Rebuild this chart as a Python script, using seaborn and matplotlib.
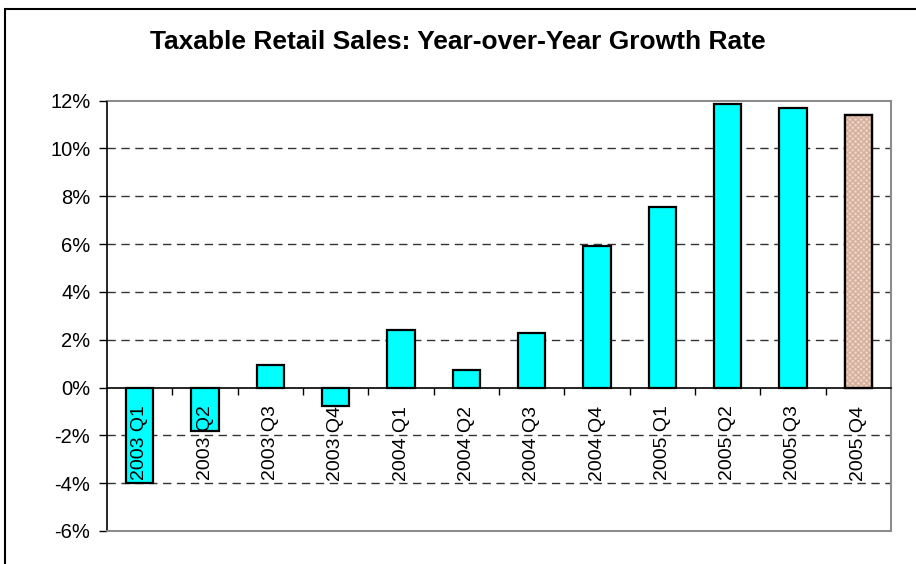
import matplotlib
matplotlib.use("Agg")
import matplotlib.pyplot as plt
from matplotlib.patches import Rectangle
from matplotlib.ticker import FixedLocator
import seaborn as sns
import pandas as pd

# Quarterly year-over-year growth of taxable retail sales (percent)
quarters = ["2003 Q1", "2003 Q2", "2003 Q3", "2003 Q4",
            "2004 Q1", "2004 Q2", "2004 Q3", "2004 Q4",
            "2005 Q1", "2005 Q2", "2005 Q3", "2005 Q4"]
growth = [-4.0, -1.8, 0.94, -0.78, 2.4, 0.73, 2.28, 5.93, 7.56, 11.86, 11.7, 11.4]
y_ticks = [-6, -4, -2, 0, 2, 4, 6, 8, 10, 12]
grid_levels = [-4, -2, 2, 4, 6, 8, 10]

sns.set_style("white")
plt.rcParams["font.family"] = ["Liberation Sans", "DejaVu Sans"]
plt.rcParams["text.color"] = "black"
plt.rcParams["xtick.color"] = "black"
plt.rcParams["ytick.color"] = "black"

fig = plt.figure(figsize=(9.16, 5.64), dpi=100)
ax = fig.add_axes([107 / 916, 1 - 531 / 564, (891 - 107) / 916, (531 - 100.5) / 564])

df = pd.DataFrame({"quarter": quarters, "growth": growth})
colors = ["#00FFFF"] * (len(quarters) - 1) + ["#EDD3C6"]
sns.barplot(data=df, x="quarter", y="growth", hue="quarter", palette=colors,
            legend=False, width=0.42, edgecolor="black", linewidth=1.6,
            saturation=1, ax=ax, zorder=2)

# Forecast quarter: fine textured fill under the outline
last = len(quarters) - 1
ax.bar(last, growth[last], width=0.42, color="none", edgecolor="#D6AE9C",
       hatch="xxxxxx", linewidth=0, zorder=2.1)
ax.bar(last, growth[last], width=0.42, color="none", edgecolor="black",
       linewidth=1.6, zorder=2.2)

ax.set_ylim(-6, 12)
ax.set_xlim(-0.5, len(quarters) - 0.5)
ax.set_axisbelow(False)

# Dashed horizontal gridlines behind the bars
for lv in grid_levels:
    ax.axhline(lv, color="#333333", linestyle=(0, (6, 4)), linewidth=1.0, zorder=0.5)

# Plot-area frame: gray on top/right/bottom, black value axis on the left
ax.spines["top"].set_color("#8C8C8C")
ax.spines["right"].set_color("#8C8C8C")
ax.spines["top"].set_linewidth(1.5)
ax.spines["right"].set_linewidth(1.5)
ax.spines["left"].set_color("black")
ax.spines["left"].set_linewidth(1.2)
ax.spines["bottom"].set_position(("data", 0))
ax.spines["bottom"].set_color("black")
ax.spines["bottom"].set_linewidth(1.2)
ax.axhline(-6, color="#8C8C8C", linewidth=1.5, clip_on=False, zorder=3)

ax.set_yticks(y_ticks)
ax.set_yticklabels([f"{v}%" for v in y_ticks])
ax.tick_params(axis="y", direction="out", length=6, width=1, color="black",
               labelsize=14.5, labelcolor="black", pad=6, left=True)

ax.set_xticks(range(len(quarters)))
ax.set_xticklabels(quarters, rotation=90, fontsize=14, va="top", ha="center")
ax.tick_params(axis="x", which="major", length=0, pad=13, bottom=True,
               labelcolor="black")
ax.xaxis.set_minor_locator(FixedLocator([i + 0.5 for i in range(len(quarters) - 1)]))
ax.tick_params(axis="x", which="minor", direction="out", length=5, width=1,
               color="black", bottom=True)

ax.set_xlabel("")
ax.set_ylabel("")

fig.text(0.5, 1 - 42 / 564, "Taxable Retail Sales: Year-over-Year Growth Rate",
         ha="center", va="center", fontsize=19, fontweight="bold", color="black")

# Chart border
fig.patches.append(Rectangle((5 / 916, -0.05), 1.2, (564 - 9) / 564 + 0.05,
                             transform=fig.transFigure, fill=False,
                             edgecolor="black", linewidth=1.5))

fig.savefig("out.png", dpi=100)
